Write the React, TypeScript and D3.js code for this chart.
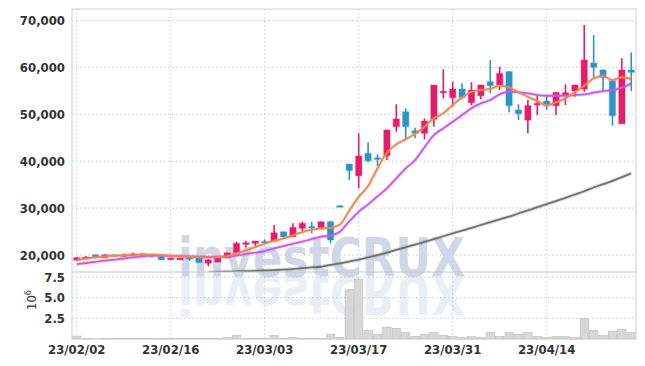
import React from 'react';
import * as d3 from 'd3';

// trading days 2023-02-02 .. 2023-04-27
const dates = [
  '23/02/02','23/02/03','23/02/06','23/02/07','23/02/08','23/02/09','23/02/10','23/02/13','23/02/14','23/02/15',
  '23/02/16','23/02/17','23/02/20','23/02/21','23/02/22','23/02/23','23/02/24','23/02/27','23/02/28','23/03/02',
  '23/03/03','23/03/06','23/03/07','23/03/08','23/03/09','23/03/10','23/03/13','23/03/14','23/03/15','23/03/16',
  '23/03/17','23/03/20','23/03/21','23/03/22','23/03/23','23/03/24','23/03/27','23/03/28','23/03/29','23/03/30',
  '23/03/31','23/04/03','23/04/04','23/04/05','23/04/06','23/04/07','23/04/10','23/04/11','23/04/12','23/04/13',
  '23/04/14','23/04/17','23/04/18','23/04/19','23/04/20','23/04/21','23/04/24','23/04/25','23/04/26','23/04/27',
];
const tickDates = ['23/02/02', '23/02/16', '23/03/03', '23/03/17', '23/03/31', '23/04/14'];

const open = [
  18900, 19450, 20050, 19450, 20050, 19750, 19900, 19950, 20100, 19700,
  19000, 19000, 19450, 19350, 18250, 18500, 19420, 20490, 22280, 22490,
  22900, 22985, 24970, 23900, 25690, 26100, 25820, 27100, 30500, 39400,
  36900, 41680, 40700, 41170, 47350, 50550, 46500, 45950, 48930, 54700,
  53540, 55390, 52470, 53960, 56950, 56240, 59090, 50910, 48780, 52000,
  52830, 51840, 54110, 54960, 55390, 60930, 59440, 57160, 47990, 59440,
];
const high = [
  19600, 19750, 20100, 20100, 20100, 20300, 20500, 20300, 20150, 19750,
  19400, 19400, 19500, 19400, 19050, 19750, 20500, 22840, 23050, 23000,
  23350, 26400, 25000, 26760, 27100, 27100, 27150, 27300, 30550, 39450,
  45950, 44030, 41470, 46700, 52130, 51280, 47140, 49140, 56240, 59590,
  56950, 56600, 56820, 56300, 61570, 60150, 59200, 52130, 53050, 54110,
  54110, 54700, 56390, 56300, 69040, 66900, 59600, 57300, 61930, 63210,
];
const low = [
  18800, 19250, 19400, 19400, 19700, 19650, 19800, 19900, 19450, 18950,
  18950, 18950, 18750, 18300, 17600, 18450, 19400, 20450, 21640, 21920,
  22350, 22900, 23700, 23850, 24970, 24620, 25500, 22500, 30400, 36000,
  34220, 39760, 38970, 40250, 46290, 44520, 44880, 44660, 47350, 53400,
  51620, 53260, 51980, 53200, 54470, 55180, 50420, 48780, 45950, 49850,
  50910, 49850, 51980, 53750, 54820, 57670, 54960, 47570, 47990, 54960,
];
const close = [
  19450, 19550, 19450, 20050, 19750, 20000, 20250, 20250, 20000, 19000,
  19350, 19350, 19350, 18400, 19000, 19700, 20490, 22490, 22630, 22985,
  22700, 24750, 23900, 25900, 26760, 25850, 27100, 23200, 30400, 38000,
  41100, 40100, 40500, 46650, 49000, 47350, 45950, 48570, 56240, 54900,
  55390, 53610, 55180, 56240, 56100, 58740, 51840, 50130, 51840, 52340,
  51840, 54680, 54610, 56240, 61570, 60020, 57880, 49700, 59440, 58950,
];
// volume, millions of shares
const volume = [
  0.35, 0.08, 0.03, 0.1, 0.04, 0.04, 0.04, 0.05, 0.05, 0.1,
  0.05, 0.05, 0.05, 0.05, 0.05, 0.05, 0.16, 0.45, 0.08, 0.08,
  0.05, 0.45, 0.08, 0.2, 0.08, 0.08, 0.06, 0.58, 0.2, 5.96,
  7.24, 1.03, 0.58, 1.44, 1.28, 0.78, 0.33, 0.58, 0.78, 0.45,
  0.33, 0.16, 0.29, 0.16, 0.78, 0.33, 0.78, 0.58, 0.78, 0.29,
  0.16, 0.29, 0.29, 0.16, 2.5, 1.03, 0.45, 0.9, 1.15, 0.78,
];
const ma5 = [
  19000, 19250, 19500, 19700, 19850, 19950, 20050, 20100, 20100, 20000,
  19850, 19750, 19650, 19550, 19500, 19550, 19700, 20300, 21000, 21700,
  22400, 23000, 23500, 24200, 24900, 25400, 25650, 25800, 26500, 29500,
  32400, 34700, 38500, 41800, 43600, 44700, 45800, 47350, 49150, 50200,
  52000, 53600, 54800, 55200, 55400, 56100, 55700, 54700, 53750, 52850,
  51900, 52550, 53400, 54700, 56100, 57650, 58150, 57300, 57900, 57500,
];
const ma20 = [
  18080, 18300, 18550, 18800, 19000, 19250, 19500, 19700, 19850, 19850,
  19800, 19750, 19700, 19650, 19600, 19600, 19680, 19900, 20210, 20500,
  20850, 21400, 21920, 22400, 22840, 23400, 23900, 24150, 24970, 27200,
  29200, 30800, 32500, 34220, 36350, 38480, 40250, 42960, 45580, 47000,
  48420, 49850, 51280, 52340, 53050, 54260, 54820, 54680, 54470, 54110,
  53960, 53960, 53960, 54110, 54260, 54610, 54960, 55180, 55680, 56600,
];
const ma60 = [
  null, null, null, null, null, null, null, null, null, null,
  null, null, null, null, 16300, 16400, 16450, 16500, 16550, 16620,
  16700, 16800, 16900, 17000, 17200, 17350, 17500, 17900, 18200, 18600,
  19000, 19500, 20000, 20500, 21100, 21650, 22200, 22800, 23400, 24000,
  24600, 25200, 25800, 26400, 27000, 27600, 28200, 28850, 29500, 30200,
  30850, 31500, 32200, 32900, 33600, 34400, 35100, 35800, 36600, 37400,
];
const priceTicks = [20000, 30000, 40000, 50000, 60000, 70000];
const volTicks = [2.5, 5.0, 7.5];

const W = 645, H = 366;
const L = 72, R = 636, T = 9, SEP = 272, B = 339;
const UP = '#e41d6b', DOWN = '#2e94c6';
const FONT = '"DejaVu Sans Condensed", "DejaVu Sans", sans-serif';

export default function App() {
  const x = d3.scaleBand<string>().domain(dates).range([L, R]).paddingInner(0.33).paddingOuter(0.17);
  const cx = (d: string) => (x(d) as number) + x.bandwidth() / 2;
  const y = d3.scaleLinear().domain([16380, 72450]).range([SEP, T]);
  const yv = d3.scaleLinear().domain([0, 8.1]).range([B, SEP]);
  const fmt = d3.format(',');

  const mkLine = (vals: (number | null)[]) =>
    d3.line<number>()
      .defined((_, i) => vals[i] != null)
      .x((_, i) => cx(dates[i]))
      .y((_, i) => y(vals[i] as number))
      .curve(d3.curveMonotoneX)(dates.map((_, i) => i));

  const lines = [
    { vals: ma60, color: '#6f6f6f' },
    { vals: ma20, color: '#c957ea' },
    { vals: ma5, color: '#ef8550' },
  ];

  const volStep = x.step();

  return (
    <svg width={W} height={H} style={{ position: 'fixed', left: 0, top: 0, background: '#fff' }}>
      <defs>
        <clipPath id="price">
          <rect x={L} y={T} width={R - L} height={SEP - T} />
        </clipPath>
      </defs>

      {/* grid */}
      {priceTicks.map(t => (
        <line key={t} x1={L} x2={R} y1={y(t)} y2={y(t)} stroke="#c9cbd8" strokeDasharray="1.5,2.5" />
      ))}
      {volTicks.map(t => (
        <line key={t} x1={L} x2={R} y1={yv(t)} y2={yv(t)} stroke="#c9cbd8" strokeDasharray="1.5,2.5" />
      ))}
      {tickDates.map(d => (
        <line key={d} x1={cx(d)} x2={cx(d)} y1={T} y2={B} stroke="#c9cbd8" strokeDasharray="1.5,2.5" />
      ))}

      {/* watermark */}
      <g fontFamily='"DejaVu Sans", sans-serif' fontWeight="bold" fontSize={54}>
        <text x={178} y={276} textLength={287} lengthAdjust="spacingAndGlyphs" fill="#c3cadf" opacity={0.75}>investCRUX</text>
        <g transform="translate(0,552) scale(1,-1)">
          <text x={178} y={276} textLength={287} lengthAdjust="spacingAndGlyphs" fill="#c3cadf" opacity={0.3}>investCRUX</text>
        </g>
      </g>

      {/* volume */}
      {dates.map((d, i) => (
        <rect key={d} x={cx(d) - volStep / 2 + 0.5} width={volStep - 1} y={yv(volume[i])}
          height={yv(0) - yv(volume[i])} fill="#d7d7d7" stroke="#bdbdbd" strokeWidth={0.6} />
      ))}

      <g clipPath="url(#price)">
        {/* candles */}
        {dates.map((d, i) => {
          const up = close[i] >= open[i];
          const c = up ? UP : DOWN;
          const top = y(Math.max(open[i], close[i]));
          const h = Math.max(1.5, Math.abs(y(open[i]) - y(close[i])));
          return (
            <g key={d}>
              <line x1={cx(d)} x2={cx(d)} y1={y(high[i])} y2={y(low[i])} stroke={c} strokeWidth={1.6} />
              <rect x={x(d)} y={top} width={x.bandwidth()} height={h} fill={c}
                stroke={c} strokeOpacity={0.25} strokeWidth={1.6} />
            </g>
          );
        })}
        {/* moving averages */}
        {lines.map(l => (
          <g key={l.color}>
            <path d={mkLine(l.vals) || ''} fill="none" stroke={l.color} strokeWidth={4} strokeOpacity={0.2} />
            <path d={mkLine(l.vals) || ''} fill="none" stroke={l.color} strokeWidth={1.8} />
          </g>
        ))}
      </g>

      {/* frame */}
      <rect x={L} y={T} width={R - L} height={B - T} fill="none" stroke="#d0d0d0" />
      <line x1={L} x2={R} y1={SEP} y2={SEP} stroke="#c8c8c8" />

      {/* axis labels */}
      <g fontFamily={FONT} fontSize={13} fill="#333" fontWeight="bold">
        {priceTicks.map(t => (
          <text key={t} x={65} y={y(t)} dy="0.35em" textAnchor="end">{fmt(t)}</text>
        ))}
        {volTicks.map(t => (
          <text key={t} x={65} y={yv(t)} dy="0.35em" textAnchor="end">{t.toFixed(1)}</text>
        ))}
        {tickDates.map(d => (
          <text key={d} x={cx(d)} y={354} textAnchor="middle">{d}</text>
        ))}
        <text transform="translate(36,300) rotate(-90)" textAnchor="middle" fontWeight="normal">
          10<tspan dy="-5" fontSize={9}>6</tspan>
        </text>
      </g>
    </svg>
  );
}
